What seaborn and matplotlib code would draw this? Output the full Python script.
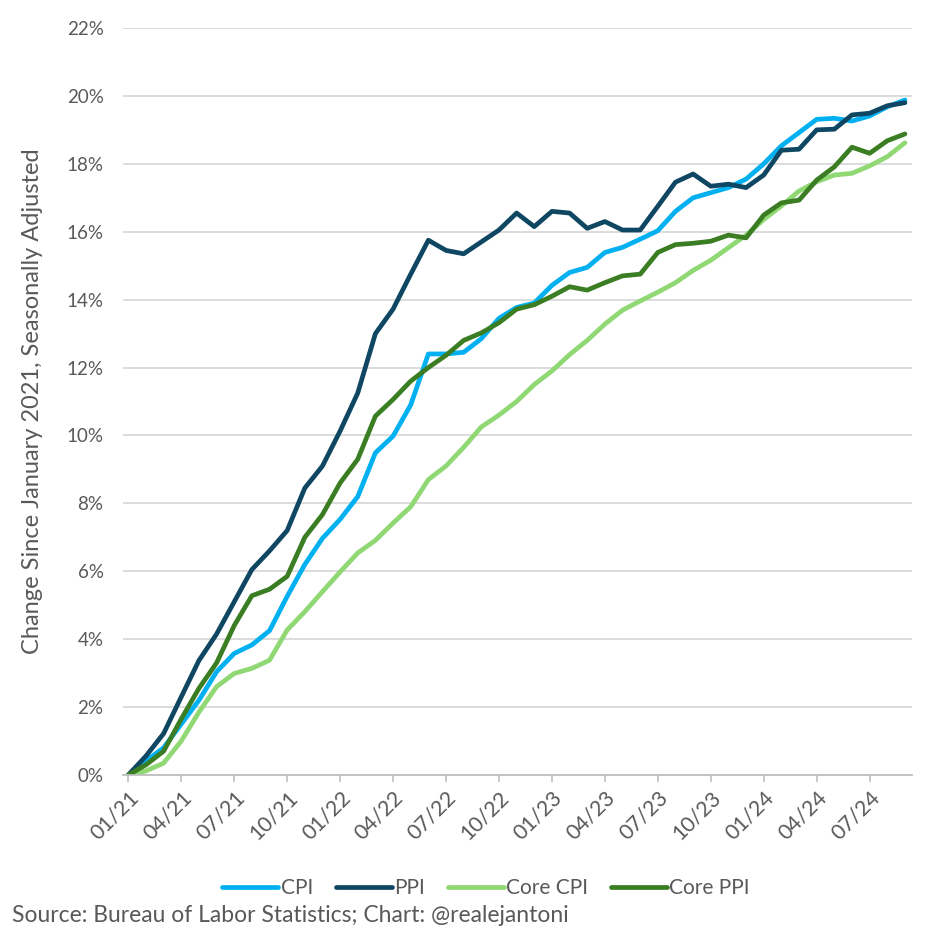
"""Variacao acumulada de CPI/PPI desde janeiro de 2021 (recriacao do grafico)."""

import matplotlib

matplotlib.use("Agg")

import matplotlib.pyplot as plt
import pandas as pd
import seaborn as sns

# meses de 01/21 ate 09/24
months = pd.date_range("2021-01-01", "2024-09-01", freq="MS")

cpi = [0.0, 0.42, 0.8, 1.5, 2.2, 3.04, 3.58, 3.83, 4.25, 5.26,
       6.2, 6.97, 7.53, 8.2, 9.49, 9.98, 10.9, 12.4, 12.4, 12.45,
       12.85, 13.45, 13.77, 13.9, 14.42, 14.8, 14.95, 15.39, 15.54, 15.78,
       16.03, 16.6, 17.0, 17.15, 17.3, 17.55, 18.0, 18.53, 18.92, 19.31,
       19.34, 19.26, 19.41, 19.68, 19.88]
ppi = [0.0, 0.56, 1.22, 2.3, 3.37, 4.15, 5.1, 6.05, 6.6, 7.2,
       8.45, 9.1, 10.13, 11.25, 13.0, 13.72, 14.75, 15.75, 15.45, 15.35,
       15.7, 16.05, 16.55, 16.15, 16.6, 16.55, 16.1, 16.3, 16.05, 16.05,
       16.75, 17.46, 17.7, 17.34, 17.4, 17.3, 17.67, 18.4, 18.43, 19.0,
       19.02, 19.44, 19.49, 19.71, 19.8]
core_cpi = [0.0, 0.12, 0.35, 1.0, 1.85, 2.6, 2.99, 3.14, 3.38, 4.27,
            4.81, 5.4, 5.98, 6.54, 6.91, 7.42, 7.9, 8.7, 9.1, 9.65,
            10.25, 10.6, 11.0, 11.5, 11.9, 12.38, 12.8, 13.28, 13.69, 13.96,
            14.22, 14.5, 14.86, 15.16, 15.53, 15.9, 16.36, 16.76, 17.2, 17.47,
            17.67, 17.72, 17.94, 18.21, 18.62]
core_ppi = [0.0, 0.3, 0.7, 1.65, 2.55, 3.3, 4.4, 5.28, 5.47, 5.85,
            7.0, 7.67, 8.6, 9.3, 10.57, 11.06, 11.6, 12.0, 12.36, 12.8,
            13.02, 13.32, 13.72, 13.85, 14.1, 14.38, 14.28, 14.5, 14.7, 14.75,
            15.39, 15.62, 15.66, 15.72, 15.9, 15.82, 16.49, 16.85, 16.93, 17.52,
            17.91, 18.49, 18.31, 18.68, 18.88]

series_names = ["CPI", "PPI", "Core CPI", "Core PPI"]
palette = {
    "CPI": "#00B0F0",
    "PPI": "#0F4662",
    "Core CPI": "#8FD873",
    "Core PPI": "#3A7D22",
}

wide = pd.DataFrame(
    {"CPI": cpi, "PPI": ppi, "Core CPI": core_cpi, "Core PPI": core_ppi}
)
wide["idx"] = range(len(months))
df = wide.melt(id_vars="idx", value_vars=series_names,
               var_name="Serie", value_name="Valor")

sns.set_theme(style="white")
plt.rcParams["font.family"] = ["Lato", "DejaVu Sans"]

gray = "#595959"

fig = plt.figure(figsize=(9.41, 9.40), dpi=100)
ax = fig.add_axes([123 / 941, 1 - 775 / 940, 789 / 941, 747 / 940])

sns.lineplot(data=df, x="idx", y="Valor", hue="Serie", hue_order=series_names,
             palette=palette, linewidth=3.4, ax=ax, legend=True)

ax.set_ylim(0, 22)
ax.set_yticks(range(0, 23, 2))
ax.set_yticklabels([f"{v}%" for v in range(0, 23, 2)])
tick_idx = list(range(0, len(months), 3))
ax.set_xticks(tick_idx)
ax.set_xticklabels([months[i].strftime("%m/%y") for i in tick_idx],
                   rotation=45, ha="right", rotation_mode="anchor")
ax.set_xlim(-0.3, 44.4)

ax.grid(axis="y", color="#D9D9D9", linewidth=1.3)
ax.set_axisbelow(True)
for side in ["left", "right", "top"]:
    ax.spines[side].set_visible(False)
ax.spines["bottom"].set_color("#BFBFBF")
ax.spines["bottom"].set_linewidth(1.3)

ax.tick_params(axis="y", length=0, pad=14, labelsize=13.5, labelcolor=gray)
ax.tick_params(axis="x", bottom=True, length=5, width=1.2, color="#BFBFBF",
               pad=4, labelsize=15.5, labelcolor=gray)

ax.set_xlabel("")
ax.set_ylabel("Change Since January 2021, Seasonally Adjusted",
              fontsize=17, color=gray, labelpad=17)

handles, labels = ax.get_legend_handles_labels()
ax.legend(handles, labels, loc="center", bbox_to_anchor=(486 / 941, 1 - 888 / 940),
          bbox_transform=fig.transFigure, ncol=4, frameon=False,
          fontsize=15, labelcolor=gray, handlelength=2.7, handletextpad=0.1,
          columnspacing=1.1)

fig.text(12 / 941, 1 - 915 / 940, "Source: Bureau of Labor Statistics; Chart: @realejantoni",
         fontsize=16.5, color=gray, ha="left", va="center")

fig.savefig("out.png", dpi=100)
plt.close(fig)
